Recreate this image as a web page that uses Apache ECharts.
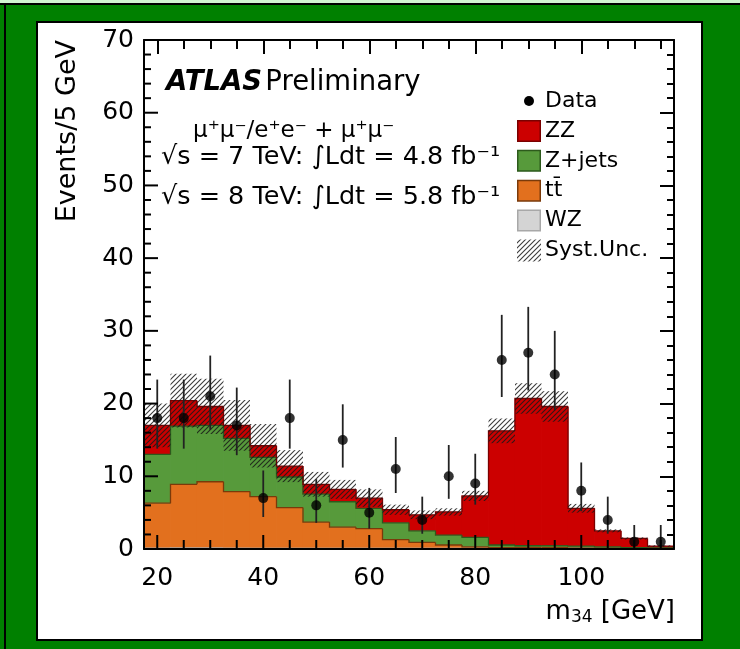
<!DOCTYPE html>
<html><head><meta charset="utf-8">
<script src="https://cdn.jsdelivr.net/npm/echarts@6/dist/echarts.min.js"></script>
<style>html,body{margin:0;padding:0;background:#008000;overflow:hidden}#chart{width:740px;height:649px}</style>
</head><body><div id="chart"></div>
<script>
// ---------------- data ----------------
const centers = [20,25,30,35,40,45,50,55,60,65,70,75,80,85,90,95,100,105,110,115];
const wz     = [0.1,0.15,0.15,0.1,0.1,0.1,0.1,0.1,0.1,0.1,0.1,0.1,0.1,0.15,0.15,0.15,0.1,0.1,0.05,0.05];
const ttbar  = [6.2,8.75,9.1,7.8,7.1,5.6,3.6,2.9,2.7,1.2,0.8,0.45,0.2,0.05,0.05,0.05,0.02,0.02,0.01,0.01];
const zjets  = [6.7,8.0,7.75,7.3,5.4,4.2,3.85,3.5,2.8,2.3,1.6,1.35,1.3,0.35,0.25,0.25,0.28,0.18,0.14,0.09];
const zz     = [4.0,3.5,2.6,1.8,1.6,1.5,1.35,1.7,1.4,1.8,2.2,3.2,5.7,15.7,20.25,19.15,5.2,2.2,1.25,0.25];
const syst   = [3.0,3.7,3.8,3.5,3.0,2.2,1.7,1.3,1.2,0.7,0.6,0.5,0.7,1.7,2.1,2.1,0.6,0.2,0.15,0.1];
const dataN  = [18,18,21,17,7,18,6,15,5,11,4,10,9,26,27,24,8,4,1,1];
const dataErrLo = [4.2,4.2,4.6,4.1,2.6,4.2,2.4,3.8,2.2,3.3,1.9,3.1,2.9,5.1,5.2,4.9,2.8,1.9,0.8,0.8];
const dataErrHi = [5.3,5.3,5.6,5.2,3.8,5.3,3.6,4.9,3.4,4.4,3.2,4.3,4.1,6.2,6.3,6.0,3.9,3.2,2.3,2.3];
const binWidth = 5;
const xMajorTicks = [20,40,60,80,100];
const xMinorTicks = [25,30,35,45,50,55,65,70,75,85,90,95,105,110,115];
const yMajorTicks = [0,10,20,30,40,50,60,70];
const yMinorTicks = [2,4,6,8,12,14,16,18,22,24,26,28,32,34,36,38,42,44,46,48,52,54,56,58,62,64,66,68];
const legendNames = ['Data','ZZ','Z+jets','tt\u0304','WZ','Syst.Unc.'];
const yTitle = 'Events/5 GeV';

// --------------- helpers ----------------
const FONT = 'DejaVu Sans';
const X_MIN = 17.5, X_MAX = 117.5, Y_MIN = 0, Y_MAX = 70;
const add = (a,b)=>a.map((v,i)=>v+b[i]);
const zero = centers.map(()=>0);
const top1 = wz;
const top2 = add(top1, ttbar);
const top3 = add(top2, zjets);
const top4 = add(top3, zz);

function makeHatch(){
  const s=5, c=document.createElement('canvas'); c.width=s; c.height=s;
  const g=c.getContext('2d');
  g.strokeStyle='rgba(25,25,25,0.85)'; g.lineWidth=1.1;
  g.beginPath();
  g.moveTo(-1,s+1); g.lineTo(s+1,-1);
  g.moveTo(-1,1); g.lineTo(1,-1);
  g.moveTo(s-1,s+1); g.lineTo(s+1,s-1);
  g.stroke();
  return c;
}
const hatch = {image: makeHatch(), repeat:'repeat'};

const COLORS = {
  zz:{fill:'#cc0000', line:'#7a0000'},
  zj:{fill:'#579a3b', line:'#2d5a1c'},
  tt:{fill:'#e2701e', line:'#7a3a0a'},
  wz:{fill:'#d4d4d4', line:'#a8a8a8'}
};

function histSeries(name, bottoms, tops, col){
  const data = centers.map((c,i)=>[c, bottoms[i], tops[i], i>0?tops[i-1]:0]);
  return {
    type:'custom', name, xAxisIndex:0, yAxisIndex:0, z:-10, data,
    encode:{x:0, y:[1,2]},
    renderItem:(params, api)=>{
      const c=api.value(0), b=api.value(1), t=api.value(2), pt=api.value(3);
      const pl=api.coord([c-binWidth/2,b]), pr=api.coord([c+binWidth/2,t]);
      const pp=api.coord([c-binWidth/2,pt]);
      return {type:'group', children:[
        {type:'rect', shape:{x:pl[0]-0.4, y:pr[1], width:pr[0]-pl[0]+0.8, height:pl[1]-pr[1]}, style:{fill:col.fill}},
        {type:'polyline', z2:5, shape:{points:[[pl[0],pp[1]],[pl[0],pr[1]],[pr[0],pr[1]]]}, style:{stroke:col.line, lineWidth:1.3, fill:null}}
      ]};
    }
  };
}

// ticks on the bottom and left frame edges, placed through the axis scales
function tickSeries(){
  const data = [];
  xMajorTicks.forEach(v=>data.push([v, Y_MIN, 0, 14]));
  xMinorTicks.forEach(v=>data.push([v, Y_MIN, 0, 9]));
  yMajorTicks.forEach(v=>data.push([X_MIN, v, 1, 14]));
  yMinorTicks.forEach(v=>data.push([X_MIN, v, 1, 7]));
  return {
    type:'custom', name:'frameTicks', z:5, xAxisIndex:0, yAxisIndex:0, silent:true, clip:false,
    data, encode:{x:0, y:1},
    renderItem:(params, api)=>{
      const p=api.coord([api.value(0), api.value(1)]);
      const len=api.value(3);
      const vert = api.value(2)===0;
      return {type:'line', shape: vert ? {x1:p[0],y1:p[1],x2:p[0],y2:p[1]-len} : {x1:p[0],y1:p[1],x2:p[0]+len,y2:p[1]},
              style:{stroke:'#000', lineWidth:2}};
    }
  };
}

const series = [
  histSeries('WZ', zero, top1, COLORS.wz),
  histSeries('ttbar', top1, top2, COLORS.tt),
  histSeries('Z+jets', top2, top3, COLORS.zj),
  histSeries('ZZ', top3, top4, COLORS.zz),
  {
    type:'custom', name:'Syst', z:-9, xAxisIndex:0, yAxisIndex:0,
    data: centers.map((c,i)=>[c, top4[i]-syst[i], top4[i]+syst[i]]),
    encode:{x:0,y:[1,2]},
    renderItem:(params, api)=>{
      const c=api.value(0);
      const pl=api.coord([c-binWidth/2, api.value(1)]), pr=api.coord([c+binWidth/2, api.value(2)]);
      return {type:'rect', shape:{x:pl[0], y:pr[1], width:pr[0]-pl[0], height:pl[1]-pr[1]}, style:{fill:hatch}};
    }
  },
  {
    type:'custom', name:'DataErr', z:-8, xAxisIndex:0, yAxisIndex:0,
    data: centers.map((c,i)=>[c, Math.max(0,dataN[i]-dataErrLo[i]), dataN[i]+dataErrHi[i]]),
    encode:{x:0,y:[1,2]},
    renderItem:(params, api)=>{
      const c=api.value(0);
      const p1=api.coord([c, api.value(1)]), p2=api.coord([c, api.value(2)]);
      return {type:'line', shape:{x1:p1[0],y1:p1[1],x2:p2[0],y2:p2[1]}, style:{stroke:'#222', lineWidth:1.8}};
    }
  },
  {
    type:'scatter', name:'Data', z:-7, xAxisIndex:0, yAxisIndex:0,
    data: centers.map((c,i)=>[c, dataN[i]]),
    symbol:'circle', symbolSize:10, itemStyle:{color:'#000'}, silent:true
  },
  tickSeries()
];

function xAx(pos, opts){
  return {
    type:'value', min:X_MIN, max:X_MAX, position:pos,
    axisLine: {show:!!opts.line, onZero:false, lineStyle:{color:'#000', width:2}},
    axisTick: opts.ticks ? {show:true, inside:true, length:opts.len, customValues:opts.ticks, lineStyle:{color:'#000', width:2}} : {show:false},
    axisLabel: opts.labels ? {show:true, customValues:opts.labels, fontSize:25, fontFamily:FONT, color:'#000', margin:17} : {show:false},
    splitLine:{show:false}, minorTick:{show:false}
  };
}
function yAx(pos, opts){
  return {
    type:'value', min:Y_MIN, max:Y_MAX, interval:10, position:pos,
    axisLine:{show:!!opts.line, onZero:false, lineStyle:{color:'#000', width:2}},
    axisTick: opts.ticks ? {show:true, inside:true, length:14, lineStyle:{color:'#000', width:2}} : {show:false},
    minorTick: opts.ticks ? {show:true, splitNumber:5, length:7, lineStyle:{color:'#000', width:2}} : {show:false},
    axisLabel: opts.labels ? {show:true, fontSize:25, fontFamily:FONT, color:'#000', margin:10} : {show:false},
    splitLine:{show:false}, minorSplitLine:{show:false}
  };
}

// legend graphics
const legendX = 517, legendY0 = 101, legendDy = 29.9;
const legendFills = [null, COLORS.zz, COLORS.zj, COLORS.tt, COLORS.wz, 'hatch'];
const graphics = [
  {type:'rect', z:-100, silent:true, shape:{x:0,y:0,width:740,height:3}, style:{fill:'#d2f4d2'}},
  {type:'rect', z:-100, silent:true, shape:{x:0,y:3,width:740,height:2}, style:{fill:'#000'}},
  {type:'rect', z:-100, silent:true, shape:{x:4,y:3,width:2,height:646}, style:{fill:'#000'}},
  {type:'rect', z:-100, silent:true, shape:{x:37,y:22,width:665,height:618}, style:{fill:'#fff', stroke:'#000', lineWidth:2}},
  {type:'text', z:20, x:68, y:40, rotation:Math.PI/2,
   style:{text:yTitle, font:'27px "DejaVu Sans"', fill:'#000', align:'right', verticalAlign:'middle'}},
  {type:'text', z:20, x:675, y:612,
   style:{text:'{a|m}{b|34}{a| [GeV]}', align:'right', verticalAlign:'middle', fill:'#000',
     rich:{a:{fontSize:26, fontFamily:FONT, color:'#000'}, b:{fontSize:17, fontFamily:FONT, color:'#000', padding:[11,0,0,0]}}}},
  {type:'text', z:20, x:166, y:83,
   style:{text:'{a|ATLAS} {b|Preliminary}', align:'left', verticalAlign:'middle',
     rich:{a:{fontSize:27.5, fontFamily:FONT, fontWeight:'bold', fontStyle:'italic', color:'#000'}, b:{fontSize:27.5, fontFamily:FONT, color:'#000'}}}},
  {type:'text', z:20, x:193, y:131,
   style:{text:'\u03bc\u207a\u03bc\u207b/e\u207ae\u207b + \u03bc\u207a\u03bc\u207b', font:'23px "DejaVu Sans"', fill:'#000', align:'left', verticalAlign:'middle'}},
  {type:'text', z:20, x:161, y:157,
   style:{text:'\u221as = 7 TeV: \u222bLdt = 4.8 fb\u207b\u00b9', font:'25.5px "DejaVu Sans"', fill:'#000', align:'left', verticalAlign:'middle'}},
  {type:'text', z:20, x:161, y:197,
   style:{text:'\u221as = 8 TeV: \u222bLdt = 5.8 fb\u207b\u00b9', font:'25.5px "DejaVu Sans"', fill:'#000', align:'left', verticalAlign:'middle'}}
];
legendNames.forEach((name,i)=>{
  const cy = legendY0 + i*legendDy;
  const f = legendFills[i];
  if (f === null){
    graphics.push({type:'circle', z:20, shape:{cx:legendX+12, cy:cy, r:5}, style:{fill:'#000'}});
  } else if (f === 'hatch'){
    graphics.push({type:'rect', z:20, shape:{x:legendX, y:cy-11, width:24, height:22}, style:{fill:hatch}});
  } else {
    graphics.push({type:'rect', z:20, shape:{x:legendX+0.75, y:cy-10.25, width:22.5, height:20.5}, style:{fill:f.fill, stroke:f.line, lineWidth:1.5}});
  }
  graphics.push({type:'text', z:20, x:545, y:cy, style:{text:name, font:'22px "DejaVu Sans"', fill:'#000', align:'left', verticalAlign:'middle'}});
});

const chart = echarts.init(document.getElementById('chart'), null, {renderer:'canvas'});
chart.setOption({
  animation:false,
  backgroundColor:'#008000',
  grid:{left:144, right:66, top:40, bottom:100, containLabel:false},
  xAxis:[
    xAx('bottom', {line:true, labels:xMajorTicks}),
    xAx('top', {line:true, ticks:xMinorTicks.concat(xMajorTicks), len:9}),
    xAx('top', {ticks:xMajorTicks, len:14})
  ],
  yAxis:[
    yAx('left', {line:true, labels:true}),
    yAx('right', {line:true, ticks:true})
  ],
  series,
  graphic: graphics
});
</script></body></html>
